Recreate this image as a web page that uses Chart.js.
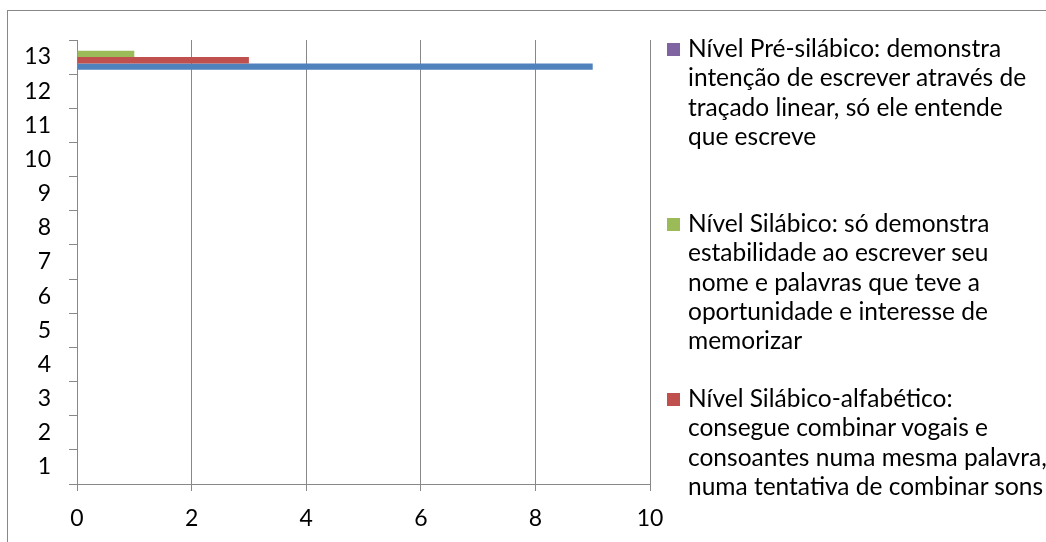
<!DOCTYPE html>
<html>
<head>
<meta charset="utf-8">
<script src="https://cdn.jsdelivr.net/npm/chart.js@4"></script>
<style>
  html, body { margin: 0; padding: 0; background: #fff; }
  body { width: 1046px; height: 542px; overflow: hidden; position: relative; font-family: Lato, sans-serif; }
  #frame { position: absolute; left: 7px; top: 10px; width: 1200px; height: 700px; border: 1px solid #888; box-sizing: border-box; }
  #wrap { position: absolute; left: 0; top: 0; width: 1046px; height: 542px; }
  #legend { position: absolute; left: 0; top: 0; width: 1046px; height: 542px; }
  .entry { position: absolute; left: 667px; white-space: nowrap; }
  .entry .box { position: absolute; left: 0; width: 13px; height: 13px; }
  .entry .txt { position: absolute; left: 21px; top: 0; font-size: 24.5px; line-height: 29.3px; color: #000; }
</style>
</head>
<body>
<div id="frame"></div>
<div id="wrap"><canvas id="chart"></canvas></div>
<div id="legend"></div>
<script>
// categories shown top to bottom, as in the picture
const categories = ["13", "12", "11", "10", "9", "8", "7", "6", "5", "4", "3", "2", "1"];

const preSilabico = [0, null, null, null, null, null, null, null, null, null, null, null, null];
const silabico = [1, null, null, null, null, null, null, null, null, null, null, null, null];
const silabicoAlfabetico = [3, null, null, null, null, null, null, null, null, null, null, null, null];
const alfabetico = [9, null, null, null, null, null, null, null, null, null, null, null, null];

const seriesNames = [
  "Nível Pré-silábico: demonstra intenção de escrever através de traçado linear, só ele entende que escreve",
  "Nível Silábico: só demonstra estabilidade ao escrever seu nome e palavras que teve a oportunidade e interesse de memorizar",
  "Nível Silábico-alfabético: consegue combinar vogais e consoantes numa mesma palavra, numa tentativa de combinar sons",
  "Nível Alfabético"
];
// legend text split the same way the picture wraps it
const legendLines = [
  ["Nível Pré-silábico: demonstra", "intenção de escrever através de", "traçado linear, só ele entende", "que escreve"],
  ["Nível Silábico: só demonstra", "estabilidade ao escrever seu", "nome e palavras que teve a", "oportunidade e interesse de", "memorizar"],
  ["Nível Silábico-alfabético:", "consegue combinar vogais e", "consoantes numa mesma palavra,", "numa tentativa de combinar sons"],
  ["Nível Alfabético"]
];
const seriesColors = ["#8064A2", "#9BBB59", "#C0504D", "#4F81BD"];
const xTicks = [0, 2, 4, 6, 8, 10];

const axisGray = "#888888";
const tickFont = { family: "Lato", size: 23 };

const ctx = document.getElementById("chart").getContext("2d");
const chart = new Chart(ctx, {
  type: "bar",
  data: {
    labels: categories,
    datasets: [preSilabico, silabico, silabicoAlfabetico, alfabetico].map((vals, i) => ({
      label: seriesNames[i],
      data: vals,
      backgroundColor: seriesColors[i],
      borderWidth: 0,
      categoryPercentage: 0.74,
      barPercentage: 1.0,
    })),
  },
  options: {
    indexAxis: "y",
    responsive: true,
    maintainAspectRatio: false,
    animation: false,
    layout: { padding: { left: 0, top: 40, right: 396, bottom: 0 } },
    plugins: { legend: { display: false }, tooltip: { enabled: false } },
    scales: {
      x: {
        min: 0,
        max: 10,
        afterBuildTicks: (scale) => { scale.ticks = xTicks.map((v) => ({ value: v })); },
        afterFit: (scale) => { scale.height = 58; },
        grid: { color: axisGray, lineWidth: 1, drawTicks: true, tickLength: 7 },
        border: { display: true, color: axisGray },
        ticks: { color: "#000", font: tickFont, padding: 14, maxRotation: 0 },
      },
      y: {
        afterFit: (scale) => { scale.width = 77; },
        grid: { offset: true, drawOnChartArea: false, drawTicks: true, tickLength: 8, color: axisGray },
        border: { display: true, color: axisGray },
        ticks: { color: "#000", font: tickFont, padding: 18 },
      },
    },
  },
});

// legend: fixed-height entries like the original, clipped by the page edge
const legend = document.getElementById("legend");
legendLines.forEach((lines, i) => {
  const e = document.createElement("div");
  e.className = "entry";
  e.style.top = (33 + i * 175) + "px";
  const box = document.createElement("div");
  box.className = "box";
  box.style.background = seriesColors[i];
  box.style.top = "10px";
  const txt = document.createElement("div");
  txt.className = "txt";
  txt.innerHTML = lines.join("<br>");
  e.appendChild(box);
  e.appendChild(txt);
  legend.appendChild(e);
});
</script>
</body>
</html>
